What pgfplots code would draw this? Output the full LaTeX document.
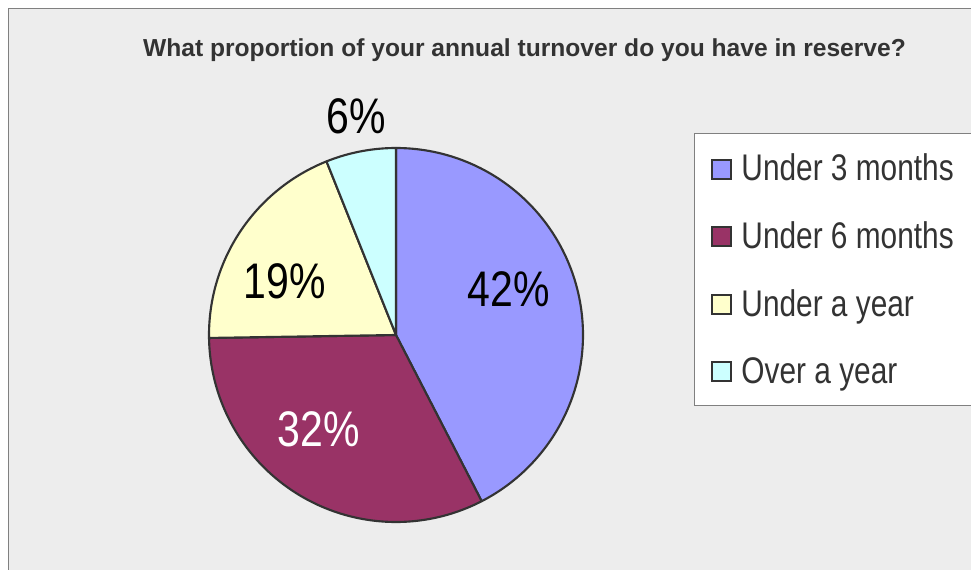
\documentclass[border=0pt]{standalone}
\usepackage{pgfplots}
\pgfplotsset{compat=1.18}
\usepackage{fontspec}
\setmainfont{Liberation Sans}
\newfontfamily\narrowfont[FakeStretch=0.82]{Liberation Sans}
\newfontfamily\legendfont[FakeStretch=0.805]{Liberation Sans}

\definecolor{panel}{HTML}{EDEDED}
\definecolor{framegrey}{HTML}{808080}
\definecolor{edge}{HTML}{333333}
\definecolor{titlegrey}{HTML}{333333}
\definecolor{cA}{HTML}{9999FF}
\definecolor{cB}{HTML}{993366}
\definecolor{cC}{HTML}{FFFFCC}
\definecolor{cD}{HTML}{CCFFFF}

% shares of the four answers (percent)
\def\vA{42}
\def\vB{32}
\def\vC{19}
\def\vD{6}
% pie geometry (centre and radius in picture units)
\def\cx{396}
\def\cy{335}
\def\rad{187}

\pgfmathsetmacro\tot{\vA+\vB+\vC+\vD}
\pgfmathsetmacro\aA{90}
\pgfmathsetmacro\aB{\aA-360*\vA/\tot}
\pgfmathsetmacro\aC{\aB-360*\vB/\tot}
\pgfmathsetmacro\aD{\aC-360*\vC/\tot}
\pgfmathsetmacro\aE{\aD-360*\vD/\tot}

\begin{document}
\begin{tikzpicture}
\begin{axis}[
  hide axis, scale only axis,
  width=728.25pt, height=427.5pt,
  xmin=0, xmax=971, ymin=0, ymax=570,
  y dir=reverse, clip=false,
]
% panel and frame
\fill[white] (axis cs:0,0) rectangle (axis cs:971,570);
\fill[panel] (axis cs:8.3,8.3) rectangle (axis cs:985,585);
\draw[framegrey, line width=1.1pt] (axis cs:8.3,585) -- (axis cs:8.3,8.3) -- (axis cs:985,8.3);

% title
\node[font=\bfseries\fontsize{18.45}{20}\selectfont, text=titlegrey, anchor=base, inner sep=0]
  at (axis cs:524.5,56.7) {What proportion of your annual turnover do you have in reserve?};

% wedges, clockwise from 12 o'clock
\addplot[fill=cA, draw=edge, line width=1.6pt, line join=round, domain=\aB:\aA, samples=120, variable=\t]
  ({\cx+\rad*cos(\t)}, {\cy-\rad*sin(\t)}) -- (axis cs:\cx,\cy) -- cycle;
\addplot[fill=cB, draw=edge, line width=1.6pt, line join=round, domain=\aC:\aB, samples=120, variable=\t]
  ({\cx+\rad*cos(\t)}, {\cy-\rad*sin(\t)}) -- (axis cs:\cx,\cy) -- cycle;
\addplot[fill=cC, draw=edge, line width=1.6pt, line join=round, domain=\aD:\aC, samples=80, variable=\t]
  ({\cx+\rad*cos(\t)}, {\cy-\rad*sin(\t)}) -- (axis cs:\cx,\cy) -- cycle;
\addplot[fill=cD, draw=edge, line width=1.6pt, line join=round, domain=\aE:\aD, samples=40, variable=\t]
  ({\cx+\rad*cos(\t)}, {\cy-\rad*sin(\t)}) -- (axis cs:\cx,\cy) -- cycle;

% value labels
\tikzset{vlabel/.style={font=\narrowfont\fontsize{37.5}{40}\selectfont, anchor=base, inner sep=0}}
\node[vlabel, text=black] at (axis cs:508.7,306) {\vA\%};
\node[vlabel, text=white] at (axis cs:319,446.7) {\vB\%};
\node[vlabel, text=black] at (axis cs:284.5,299) {\vC\%};
\node[vlabel, text=black] at (axis cs:356,133.3) {\vD\%};

% legend
\draw[framegrey, fill=white, line width=0.75pt] (axis cs:694.3,134) rectangle (axis cs:990,405.7);
\tikzset{ltext/.style={font=\legendfont\fontsize{27.8}{30}\selectfont, text=titlegrey, anchor=base west, inner sep=0}}
\foreach \col/\txt [count=\i from 0] in {cA/Under 3 months, cB/Under 6 months, cC/Under a year, cD/Over a year} {
  \edef\temp{\noexpand\draw[edge, fill=\col, line width=1.4pt]
    (axis cs:712.2,{159.8+67.5*\i}) rectangle (axis cs:731.2,{178.8+67.5*\i});
  \noexpand\node[ltext] at (axis cs:741.2,{181+67.5*\i}) {\txt};}
  \temp
}

\coordinate (BL) at (axis cs:0,570);
\coordinate (TR) at (axis cs:971,0);
\end{axis}
\pgfresetboundingbox
\path[use as bounding box] (BL) rectangle (TR);
\end{tikzpicture}
\end{document}
